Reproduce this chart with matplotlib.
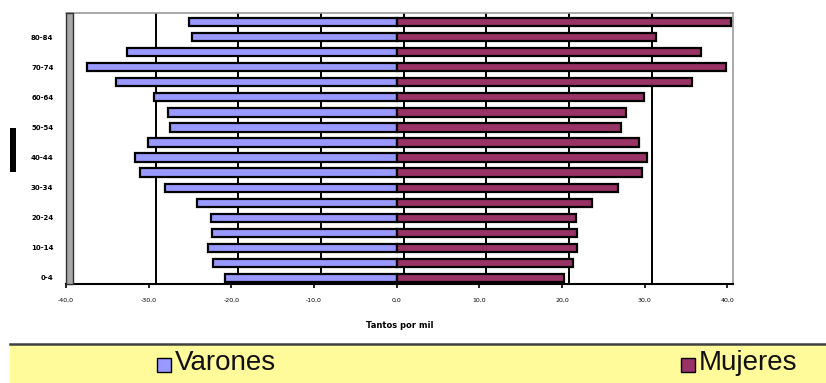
import matplotlib
matplotlib.use("Agg")
import matplotlib.pyplot as plt
from matplotlib.patches import Rectangle
from matplotlib.lines import Line2D
import numpy as np

# grupos de edad, de abajo (0-4) hacia arriba (85 y más)
grupos = ["0-4", "5-9", "10-14", "15-19", "20-24", "25-29", "30-34", "35-39",
          "40-44", "45-49", "50-54", "55-59", "60-64", "65-69", "70-74",
          "75-79", "80-84", "85+"]
# tantos por mil
varones = [20.8, 22.2, 22.8, 22.3, 22.5, 24.2, 28.0, 31.1, 31.6,
           30.1, 27.4, 27.7, 29.3, 33.9, 37.4, 32.6, 24.8, 25.1]
mujeres = [20.2, 21.3, 21.8, 21.8, 21.7, 23.7, 26.8, 29.7, 30.3,
           29.3, 27.1, 27.7, 29.9, 35.7, 39.9, 36.8, 31.4, 40.5]
ticks_x = [-40, -30, -20, -10, 0, 10, 20, 30, 40]
etiquetas_x = ["-40,0", "-30,0", "-20,0", "-10,0", "0,0", "10,0", "20,0", "30,0", "40,0"]

color_v = "#9999FF"
color_m = "#993366"

fig = plt.figure(figsize=(8.26, 3.83), dpi=100)
W, H = 826, 383

ax = fig.add_axes([66 / W, (H - 284) / H, 667 / W, 271 / H])
y = np.arange(len(grupos))

ax.barh(y, [-v for v in varones], height=0.55, color=color_v,
        edgecolor="black", linewidth=1.6, zorder=3)
ax.barh(y, mujeres, height=0.55, color=color_m,
        edgecolor="black", linewidth=1.6, zorder=3)

# lineas de division (desplazadas como en la plantilla de Excel)
desplaz = 0.85
for t in ticks_x[1:-1]:
    ax.axvline(t + desplaz, color="black", linewidth=1.4, zorder=1)

ax.set_xlim(-40, 40.7)
ax.set_ylim(-0.4, 17.6)

ax.set_xticks(ticks_x)
ax.set_xticklabels(etiquetas_x, fontsize=4.5)
ax.tick_params(axis="x", length=3, width=1.2, pad=7)

ax.set_yticks(y[::2])
ax.set_yticklabels(grupos[::2], fontsize=5, fontweight="bold")
ax.tick_params(axis="y", length=0, pad=9)

ax.set_xlabel("Tantos por mil", fontsize=6, fontweight="bold", labelpad=13)

for lado in ["top", "right"]:
    ax.spines[lado].set_color("#999999")
    ax.spines[lado].set_linewidth(1.2)
ax.spines["bottom"].set_linewidth(1.5)
ax.spines["left"].set_visible(False)

# pared lateral gris
ax.add_patch(Rectangle((0, 0), 0.011, 1.0, transform=ax.transAxes,
                       facecolor="#A8A8A8", edgecolor="#303030",
                       linewidth=1.0, clip_on=False, zorder=4))

# marca negra a la izquierda
fig.patches.append(Rectangle((10 / W, (H - 172) / H), 6 / W, 44 / H,
                             transform=fig.transFigure, facecolor="black",
                             edgecolor="none"))

# banda de la leyenda
fig.patches.append(Rectangle((10 / W, 0), 816 / W, (H - 345) / H,
                             transform=fig.transFigure, facecolor="#FFFB9A",
                             edgecolor="none"))
fig.lines.append(Line2D([10 / W, 1], [(H - 344) / H, (H - 344) / H],
                        transform=fig.transFigure, color="#404040",
                        linewidth=1.8))

fuente = ["Liberation Sans Narrow", "Liberation Sans", "DejaVu Sans"]
for x0, texto, col in [(157, "Varones", color_v), (681, "Mujeres", color_m)]:
    fig.patches.append(Rectangle((x0 / W, (H - 372) / H), 14 / W, 14 / H,
                                 transform=fig.transFigure, facecolor=col,
                                 edgecolor="black", linewidth=1.0))
    fig.text((x0 + 18) / W, (H - 363) / H, texto, fontsize=20,
             family=fuente, va="center", ha="left", color="#111111")

fig.savefig("out.png", dpi=100)
